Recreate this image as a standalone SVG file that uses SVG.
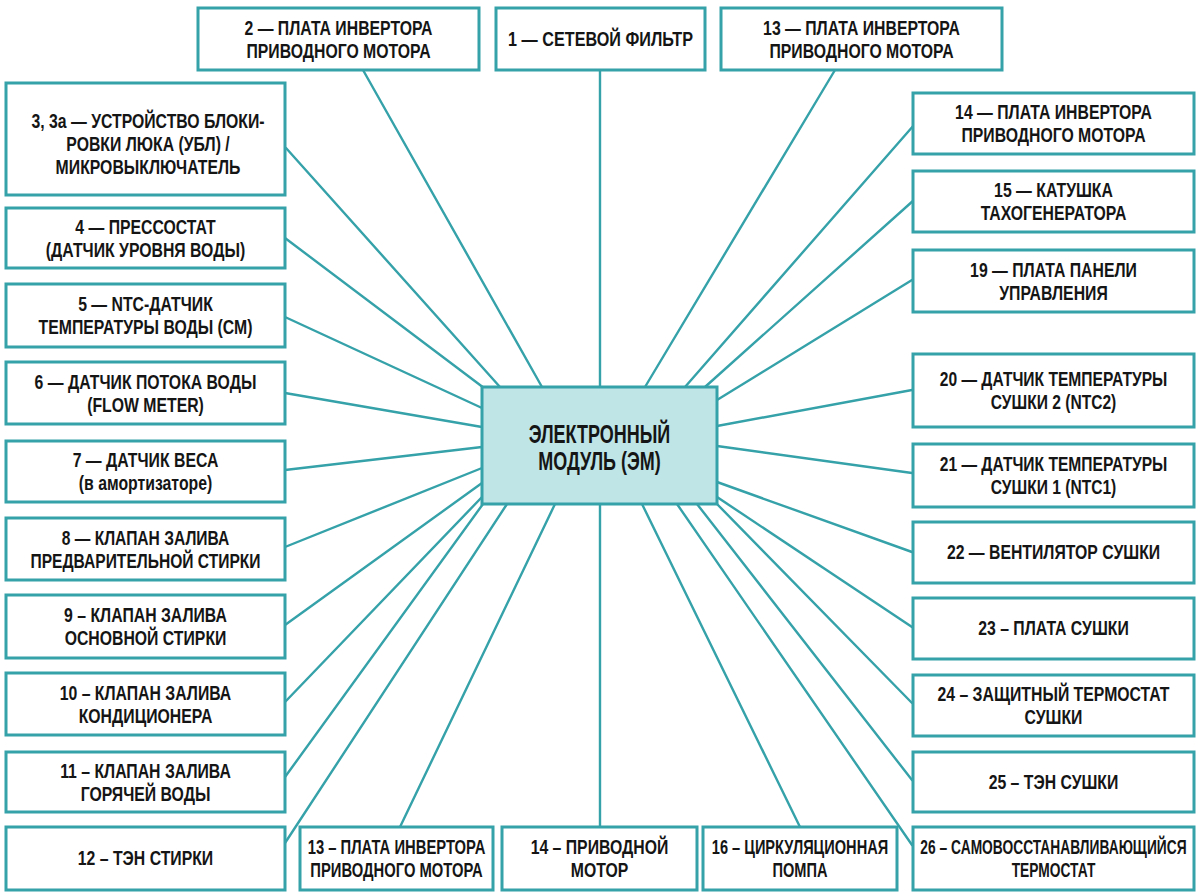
<svg xmlns="http://www.w3.org/2000/svg" width="1200" height="896" viewBox="0 0 1200 896">
<style>
.bx{fill:#ffffff;stroke:#35a1a9;stroke-width:3}
.cbx{fill:#bfe5e7;stroke:#35a1a9;stroke-width:3}
.ln{stroke:#35a1a9;stroke-width:2.4;fill:none;stroke-linecap:round}
.t{font-family:"Liberation Sans",Arial,"DejaVu Sans",sans-serif;font-weight:bold;font-size:20px;fill:#151515;text-anchor:middle}
.tc{font-family:"Liberation Sans",Arial,"DejaVu Sans",sans-serif;font-weight:bold;font-size:25px;fill:#151515;text-anchor:middle}
</style>
<rect x="0" y="0" width="1200" height="896" fill="#ffffff"/>
<g id="connectors">
<line class="ln" x1="363" y1="70" x2="542" y2="387"/>
<line class="ln" x1="600" y1="70" x2="600" y2="387"/>
<line class="ln" x1="835" y1="70" x2="645" y2="387"/>
<line class="ln" x1="286" y1="148" x2="500" y2="387"/>
<line class="ln" x1="285" y1="238" x2="484" y2="388"/>
<line class="ln" x1="285" y1="317" x2="482" y2="408"/>
<line class="ln" x1="285" y1="393" x2="482" y2="427"/>
<line class="ln" x1="285" y1="470" x2="482" y2="447"/>
<line class="ln" x1="285" y1="547" x2="482" y2="468"/>
<line class="ln" x1="285" y1="625" x2="482" y2="483"/>
<line class="ln" x1="285" y1="702" x2="482" y2="497"/>
<line class="ln" x1="285" y1="777" x2="483" y2="504"/>
<line class="ln" x1="285" y1="843" x2="507" y2="504"/>
<line class="ln" x1="400" y1="827" x2="555" y2="504"/>
<line class="ln" x1="600" y1="504" x2="600" y2="827"/>
<line class="ln" x1="642" y1="504" x2="800" y2="827"/>
<line class="ln" x1="677" y1="504" x2="912" y2="845"/>
<line class="ln" x1="697" y1="504" x2="912" y2="780"/>
<line class="ln" x1="717" y1="504" x2="912" y2="703"/>
<line class="ln" x1="717" y1="497" x2="912" y2="627"/>
<line class="ln" x1="717" y1="482" x2="912" y2="552"/>
<line class="ln" x1="717" y1="446" x2="912" y2="473"/>
<line class="ln" x1="717" y1="426" x2="912" y2="390"/>
<line class="ln" x1="717" y1="400" x2="912" y2="280"/>
<line class="ln" x1="705" y1="387" x2="914" y2="200"/>
<line class="ln" x1="685" y1="387" x2="914" y2="125"/>
</g>
<g id="em">
<rect class="cbx" x="482" y="387" width="235" height="117"/>
<text class="tc" transform="translate(599.5,0) scale(0.72,1)"><tspan x="0" y="443">ЭЛЕКТРОННЫЙ</tspan><tspan x="0" y="470">МОДУЛЬ (ЭМ)</tspan></text>
</g>
<g id="n2">
<rect class="bx" x="198" y="8" width="281" height="62"/>
<text class="t" transform="translate(338.5,0) scale(0.79,1)"><tspan x="0" y="35">2 — ПЛАТА ИНВЕРТОРА</tspan><tspan x="0" y="58">ПРИВОДНОГО МОТОРА</tspan></text>
</g>
<g id="n1">
<rect class="bx" x="496" y="8" width="209" height="62"/>
<text class="t" transform="translate(600.5,0) scale(0.81,1)"><tspan x="0" y="46">1 — СЕТЕВОЙ ФИЛЬТР</tspan></text>
</g>
<g id="n13t">
<rect class="bx" x="721" y="8" width="281" height="62"/>
<text class="t" transform="translate(861.5,0) scale(0.79,1)"><tspan x="0" y="35">13 — ПЛАТА ИНВЕРТОРА</tspan><tspan x="0" y="58">ПРИВОДНОГО МОТОРА</tspan></text>
</g>
<g id="n3">
<rect class="bx" x="6" y="83" width="279" height="112"/>
<text class="t" transform="translate(148,0) scale(0.79,1)"><tspan x="0" y="128">3, 3а — УСТРОЙСТВО БЛОКИ-</tspan><tspan x="0" y="151">РОВКИ ЛЮКА (УБЛ) /</tspan><tspan x="0" y="174">МИКРОВЫКЛЮЧАТЕЛЬ</tspan></text>
</g>
<g id="n4">
<rect class="bx" x="6" y="208" width="279" height="60"/>
<text class="t" transform="translate(145.5,0) scale(0.79,1)"><tspan x="0" y="234">4 — ПРЕССОСТАТ</tspan><tspan x="0" y="257">(ДАТЧИК УРОВНЯ ВОДЫ)</tspan></text>
</g>
<g id="n5">
<rect class="bx" x="6" y="284" width="279" height="63"/>
<text class="t" transform="translate(145.5,0) scale(0.79,1)"><tspan x="0" y="311.5">5 — NTC-ДАТЧИК</tspan><tspan x="0" y="334.5">ТЕМПЕРАТУРЫ ВОДЫ (СМ)</tspan></text>
</g>
<g id="n6">
<rect class="bx" x="6" y="362" width="279" height="62"/>
<text class="t" transform="translate(145.5,0) scale(0.79,1)"><tspan x="0" y="389">6 — ДАТЧИК ПОТОКА ВОДЫ</tspan><tspan x="0" y="412">(FLOW METER)</tspan></text>
</g>
<g id="n7">
<rect class="bx" x="6" y="441" width="279" height="61"/>
<text class="t" transform="translate(145.5,0) scale(0.79,1)"><tspan x="0" y="467.5">7 — ДАТЧИК ВЕСА</tspan><tspan x="0" y="490.5">(в амортизаторе)</tspan></text>
</g>
<g id="n8">
<rect class="bx" x="6" y="518" width="279" height="62"/>
<text class="t" transform="translate(145.5,0) scale(0.78,1)"><tspan x="0" y="545">8 — КЛАПАН ЗАЛИВА</tspan><tspan x="0" y="568">ПРЕДВАРИТЕЛЬНОЙ СТИРКИ</tspan></text>
</g>
<g id="n9">
<rect class="bx" x="6" y="595" width="279" height="63"/>
<text class="t" transform="translate(145.5,0) scale(0.79,1)"><tspan x="0" y="622.5">9 – КЛАПАН ЗАЛИВА</tspan><tspan x="0" y="645.5">ОСНОВНОЙ СТИРКИ</tspan></text>
</g>
<g id="n10">
<rect class="bx" x="6" y="673" width="279" height="62"/>
<text class="t" transform="translate(145.5,0) scale(0.79,1)"><tspan x="0" y="700">10 – КЛАПАН ЗАЛИВА</tspan><tspan x="0" y="723">КОНДИЦИОНЕРА</tspan></text>
</g>
<g id="n11">
<rect class="bx" x="6" y="752" width="279" height="60"/>
<text class="t" transform="translate(145.5,0) scale(0.79,1)"><tspan x="0" y="778">11 – КЛАПАН ЗАЛИВА</tspan><tspan x="0" y="801">ГОРЯЧЕЙ ВОДЫ</tspan></text>
</g>
<g id="n12">
<rect class="bx" x="6" y="827" width="279" height="63"/>
<text class="t" transform="translate(145.5,0) scale(0.79,1)"><tspan x="0" y="865.5">12 – ТЭН СТИРКИ</tspan></text>
</g>
<g id="n13b">
<rect class="bx" x="300" y="827" width="193" height="63"/>
<text class="t" transform="translate(396.5,0) scale(0.74,1)"><tspan x="0" y="854.5">13 – ПЛАТА ИНВЕРТОРА</tspan><tspan x="0" y="877.5">ПРИВОДНОГО МОТОРА</tspan></text>
</g>
<g id="n14b">
<rect class="bx" x="502" y="827" width="195" height="63"/>
<text class="t" transform="translate(599.5,0) scale(0.79,1)"><tspan x="0" y="854.5">14 – ПРИВОДНОЙ</tspan><tspan x="0" y="877.5">МОТОР</tspan></text>
</g>
<g id="n16">
<rect class="bx" x="703" y="827" width="194" height="63"/>
<text class="t" transform="translate(800,0) scale(0.73,1)"><tspan x="0" y="854.5">16 – ЦИРКУЛЯЦИОННАЯ</tspan><tspan x="0" y="877.5">ПОМПА</tspan></text>
</g>
<g id="n14">
<rect class="bx" x="913" y="93" width="281" height="61"/>
<text class="t" transform="translate(1053.5,0) scale(0.79,1)"><tspan x="0" y="119.5">14 — ПЛАТА ИНВЕРТОРА</tspan><tspan x="0" y="142.5">ПРИВОДНОГО МОТОРА</tspan></text>
</g>
<g id="n15">
<rect class="bx" x="913" y="171" width="281" height="61"/>
<text class="t" transform="translate(1053.5,0) scale(0.79,1)"><tspan x="0" y="197.5">15 — КАТУШКА</tspan><tspan x="0" y="220.5">ТАХОГЕНЕРАТОРА</tspan></text>
</g>
<g id="n19">
<rect class="bx" x="913" y="250" width="281" height="62"/>
<text class="t" transform="translate(1053.5,0) scale(0.79,1)"><tspan x="0" y="277">19 — ПЛАТА ПАНЕЛИ</tspan><tspan x="0" y="300">УПРАВЛЕНИЯ</tspan></text>
</g>
<g id="n20">
<rect class="bx" x="913" y="354" width="281" height="73"/>
<text class="t" transform="translate(1053.5,0) scale(0.78,1)"><tspan x="0" y="386.5">20 — ДАТЧИК ТЕМПЕРАТУРЫ</tspan><tspan x="0" y="409.5">СУШКИ 2 (NTC2)</tspan></text>
</g>
<g id="n21">
<rect class="bx" x="913" y="444" width="281" height="63"/>
<text class="t" transform="translate(1053.5,0) scale(0.78,1)"><tspan x="0" y="471.5">21 — ДАТЧИК ТЕМПЕРАТУРЫ</tspan><tspan x="0" y="494.5">СУШКИ 1 (NTC1)</tspan></text>
</g>
<g id="n22">
<rect class="bx" x="913" y="522" width="281" height="61"/>
<text class="t" transform="translate(1053.5,0) scale(0.79,1)"><tspan x="0" y="559.5">22 — ВЕНТИЛЯТОР СУШКИ</tspan></text>
</g>
<g id="n23">
<rect class="bx" x="913" y="598" width="281" height="61"/>
<text class="t" transform="translate(1053.5,0) scale(0.79,1)"><tspan x="0" y="635.5">23 – ПЛАТА СУШКИ</tspan></text>
</g>
<g id="n24">
<rect class="bx" x="913" y="675" width="281" height="61"/>
<text class="t" transform="translate(1053.5,0) scale(0.79,1)"><tspan x="0" y="701.5">24 – ЗАЩИТНЫЙ ТЕРМОСТАТ</tspan><tspan x="0" y="724.5">СУШКИ</tspan></text>
</g>
<g id="n25">
<rect class="bx" x="913" y="752" width="281" height="60"/>
<text class="t" transform="translate(1053.5,0) scale(0.79,1)"><tspan x="0" y="789">25 – ТЭН СУШКИ</tspan></text>
</g>
<g id="n26">
<rect class="bx" x="913" y="827" width="281" height="63"/>
<text class="t" transform="translate(1053.5,0) scale(0.69,1)"><tspan x="0" y="854.5">26 – САМОВОССТАНАВЛИВАЮЩИЙСЯ</tspan><tspan x="0" y="877.5">ТЕРМОСТАТ</tspan></text>
</g>
</svg>
